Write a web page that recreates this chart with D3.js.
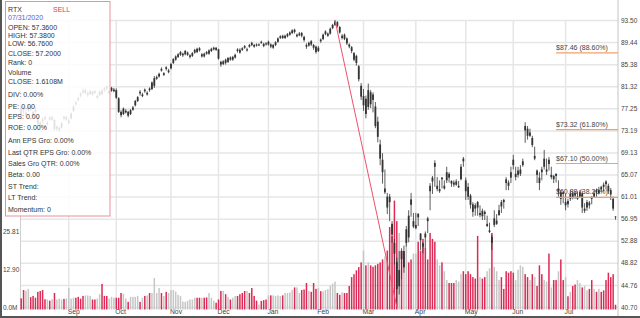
<!DOCTYPE html>
<html>
<head>
<meta charset="utf-8">
<script src="https://cdn.jsdelivr.net/npm/d3@7"></script>
<style>
  body { margin: 0; background: #fff; }
  svg { display: block; font-family: "Liberation Sans", Arial, sans-serif; }
</style>
</head>
<body>
<div id="chart"></div>
<script>
// trading calendar
const holidays = ['2019-09-02', '2019-11-28', '2019-12-25', '2020-01-01', '2020-01-20',
  '2020-02-17', '2020-04-10', '2020-05-25', '2020-07-03'];

// daily OHLC, one line per month (Aug 2019 .. Jul 2020)
const opens = [
  77.4, 77.2, 76.0, 76.9, 77.5, 76.6, 77.0, 75.6, 74.6, 75.2, 75.6, 74.3, 75.5, 75.2, 75.1, 73.5, 73.3, 73.7, 75.7, 75.2,
  74.6, 75.4, 76.8, 78.3, 79.1, 79.9, 80.5, 80.1, 79.7, 79.9, 80.3, 80.4, 79.2, 79.7, 80.5, 80.9, 81.3, 80.0, 80.5, 80.4,
  80.6, 79.1, 76.6, 76.2, 76.5, 76.6, 76.2, 77.0, 77.8, 78.6, 80.3, 79.5, 80.7, 79.8, 80.9, 80.8, 81.4, 82.7, 83.1, 84.5, 83.4, 84.8, 83.9,
  84.6, 85.6, 86.2, 86.7, 87.1, 87.0, 87.2, 87.1, 86.7, 86.9, 87.5, 88.2, 88.3, 86.8, 87.3, 87.6, 87.3, 87.8, 88.1, 88.4,
  88.1, 85.8, 85.4, 86.2, 85.8, 86.6, 86.2, 86.6, 88.1, 88.0, 88.3, 88.7, 87.9, 88.9, 89.3, 88.9, 89.0, 88.8, 89.5, 89.1, 89.2,
  89.0, 89.0, 88.4, 88.9, 89.5, 90.2, 90.6, 90.2, 90.5, 90.8, 91.1, 91.7, 90.5, 90.7, 91.1, 90.4, 88.9, 88.8, 89.6, 88.9, 88.6,
  87.8, 89.9, 90.0, 90.9, 90.6, 91.0, 92.0, 92.6, 93.1, 92.2, 90.2, 90.8, 90.1, 89.0, 88.5, 87.4, 86.9, 85.0, 81.4,
  77.8, 79.0, 77.5, 80.2, 79.8, 77.6, 74.8, 70.6, 67.8, 61.8, 61.0, 61.0, 56.0, 52.5, 49.0, 44.5, 51.0, 48.0, 52.5, 57.5, 60.5, 55.5,
  55.2, 57.8, 54.2, 52.4, 54.2, 57.0, 63.0, 64.5, 67.2, 62.4, 62.0, 64.5, 62.5, 64.0, 65.2, 63.9, 63.6, 63.2, 62.7, 64.2, 68.0,
  64.0, 62.8, 61.2, 59.6, 59.4, 60.0, 57.6, 58.4, 58.2, 55.6, 54.5, 53.6, 55.8, 56.0, 57.6, 60.0, 60.4, 64.2, 63.6, 65.5,
  67.8, 64.6, 65.0, 65.2, 66.8, 74.0, 73.5, 72.2, 71.8, 68.0, 65.8, 64.5, 66.0, 66.5, 65.6, 67.8, 64.6, 64.8, 65.2, 62.0, 61.8, 61.8,
  59.4, 60.2, 60.6, 61.6, 61.6, 60.6, 61.0, 61.6, 58.4, 59.0, 59.9, 61.0, 61.0, 62.2, 61.6, 62.8, 63.2, 63.8, 63.0, 62.2, 60.6, 57.36
];
const highs = [
  77.8, 77.6, 76.9, 77.9, 77.8, 76.8, 77.6, 75.8, 74.9, 75.5, 75.9, 74.9, 75.8, 75.9, 75.3, 74.1, 73.9, 74.7, 75.9, 75.9,
  75.3, 76.5, 77.8, 78.6, 79.4, 80.2, 80.9, 80.9, 80.3, 80.6, 80.5, 80.6, 79.8, 80.5, 80.8, 81.2, 81.5, 80.6, 81.2, 81.0,
  80.9, 79.3, 76.9, 77.4, 77.1, 76.8, 77.1, 77.7, 78.8, 79.5, 80.6, 80.1, 80.9, 80.4, 81.1, 82.2, 83.2, 83.3, 83.8, 84.8, 83.9, 85.0, 84.5,
  85.6, 86.5, 87.0, 87.4, 87.8, 87.5, 88.0, 87.7, 87.2, 87.6, 88.2, 88.4, 88.5, 87.4, 87.5, 87.8, 88.1, 88.4, 88.6, 88.5,
  88.2, 86.0, 86.1, 86.4, 86.7, 86.8, 86.9, 87.3, 88.3, 88.3, 88.5, 88.9, 88.4, 89.1, 89.5, 89.1, 89.2, 89.2, 89.7, 89.3, 89.4,
  89.7, 89.2, 89.1, 89.6, 90.3, 90.7, 90.8, 90.8, 91.1, 91.4, 91.8, 91.9, 91.0, 91.3, 91.3, 90.6, 89.2, 89.5, 89.8, 89.1, 88.8,
  88.7, 90.1, 91.0, 91.6, 91.2, 92.1, 92.8, 93.47, 93.3, 92.4, 90.9, 91.0, 90.3, 89.2, 88.7, 87.6, 87.1, 85.2, 81.9,
  80.8, 79.6, 81.8, 80.6, 80.2, 78.4, 75.7, 71.5, 69.0, 66.0, 61.7, 61.5, 56.5, 53.2, 49.8, 51.0, 51.5, 52.0, 55.6, 58.5, 61.7, 58.0,
  58.0, 58.0, 54.3, 52.6, 54.6, 57.3, 63.5, 64.8, 67.7, 64.6, 64.0, 64.6, 64.0, 66.5, 65.5, 64.0, 64.0, 64.2, 63.9, 67.0, 68.3,
  64.5, 63.5, 61.5, 60.0, 59.8, 60.2, 59.4, 58.8, 58.5, 57.5, 56.2, 54.0, 58.5, 57.8, 59.5, 60.4, 60.6, 64.6, 64.0, 66.5,
  68.7, 66.5, 66.5, 66.8, 68.0, 74.7, 74.0, 73.5, 72.2, 70.2, 66.0, 65.5, 66.5, 69.6, 68.0, 68.3, 66.5, 65.0, 65.3, 64.0, 62.2, 62.0,
  61.5, 60.6, 62.2, 62.0, 62.0, 62.0, 62.2, 62.0, 59.8, 60.4, 60.2, 61.0, 62.2, 62.5, 62.8, 63.0, 63.6, 64.0, 63.4, 62.6, 61.0, 57.38
];
const lows = [
  75.9, 76.3, 75.6, 76.6, 76.7, 75.5, 76.2, 74.2, 73.7, 74.5, 75.0, 74.1, 75.0, 75.0, 73.2, 73.1, 72.9, 73.5, 75.0, 75.0,
  74.3, 75.2, 76.6, 77.7, 78.5, 79.3, 79.9, 79.9, 79.4, 79.7, 79.6, 79.9, 79.0, 79.5, 79.6, 80.3, 80.6, 79.8, 80.3, 80.2,
  79.0, 76.4, 75.6, 76.0, 76.3, 75.6, 76.0, 76.8, 77.6, 78.4, 79.6, 79.3, 80.1, 79.6, 80.3, 80.6, 81.0, 82.5, 82.9, 84.0, 83.2, 84.2, 83.7,
  84.4, 85.4, 86.0, 86.5, 86.9, 86.7, 87.0, 86.9, 86.4, 86.7, 87.3, 87.4, 87.7, 86.6, 86.6, 87.1, 87.1, 87.6, 87.9, 87.8,
  86.2, 84.9, 85.2, 85.3, 85.6, 86.0, 86.0, 86.4, 87.5, 87.3, 87.8, 88.2, 87.7, 88.4, 88.7, 88.4, 88.6, 88.7, 89.1, 88.5, 88.8,
  88.8, 88.3, 88.2, 88.7, 89.3, 90.0, 90.0, 90.0, 90.3, 90.6, 90.9, 91.0, 90.3, 90.5, 90.3, 89.5, 88.2, 88.6, 88.7, 88.0, 87.3,
  87.6, 89.3, 89.8, 90.7, 90.4, 90.8, 91.8, 92.4, 92.1, 91.0, 89.9, 89.8, 88.9, 88.3, 87.4, 85.9, 85.1, 82.2, 78.8,
  76.8, 75.4, 77.0, 77.3, 76.5, 73.6, 71.0, 66.8, 63.4, 61.5, 57.8, 56.5, 52.5, 48.5, 40.73, 43.0, 45.8, 47.0, 51.8, 52.6, 57.3, 55.2,
  55.0, 55.6, 51.2, 50.6, 51.6, 54.3, 58.5, 61.5, 62.8, 62.0, 61.7, 62.5, 62.3, 63.5, 63.6, 62.8, 62.8, 63.0, 62.6, 64.0, 66.5,
  60.4, 60.4, 58.8, 57.3, 57.5, 57.5, 57.2, 56.7, 56.7, 55.4, 54.3, 51.2, 55.4, 55.8, 57.5, 58.0, 58.8, 62.2, 62.2, 63.5,
  66.0, 64.0, 64.5, 64.8, 66.5, 70.9, 71.5, 72.0, 70.1, 67.7, 63.5, 62.2, 64.0, 66.0, 65.0, 65.8, 64.2, 63.5, 63.6, 61.0, 59.5, 59.8,
  58.5, 59.0, 60.2, 60.5, 60.6, 60.4, 60.8, 58.0, 58.0, 58.4, 58.8, 59.6, 60.8, 61.0, 61.4, 61.8, 62.0, 62.4, 61.5, 60.4, 58.4, 56.76
];
const closes = [
  76.2, 76.8, 76.5, 77.6, 77.0, 75.8, 76.6, 74.4, 74.0, 74.9, 75.3, 74.6, 75.2, 75.6, 73.4, 73.9, 73.6, 74.5, 75.4, 75.6,
  75.0, 76.3, 77.6, 78.0, 78.8, 79.6, 80.2, 80.6, 80.0, 80.4, 79.8, 80.1, 79.5, 80.3, 79.9, 80.6, 80.9, 80.4, 81.0, 80.7,
  79.2, 76.6, 76.0, 77.2, 76.8, 75.9, 76.9, 77.4, 78.6, 79.3, 80.0, 79.8, 80.4, 80.1, 80.6, 82.0, 82.8, 83.0, 83.6, 84.2, 83.7, 84.5, 84.2,
  85.4, 86.3, 86.8, 87.2, 87.6, 87.3, 87.8, 87.5, 87.0, 87.4, 88.0, 87.6, 87.9, 87.2, 86.8, 87.3, 87.9, 88.2, 88.4, 88.0,
  86.4, 85.3, 85.9, 85.6, 86.5, 86.2, 86.7, 87.1, 87.8, 87.5, 88.0, 88.4, 88.1, 88.6, 88.9, 88.6, 88.8, 89.0, 89.3, 88.7, 89.0,
  89.5, 88.6, 88.9, 89.4, 90.1, 90.5, 90.2, 90.6, 90.9, 91.2, 91.6, 91.3, 90.8, 91.0, 90.6, 89.8, 88.6, 89.3, 89.0, 88.4, 87.6,
  88.4, 89.6, 90.8, 91.4, 91.0, 91.9, 92.6, 93.2, 92.4, 91.2, 90.6, 90.0, 89.2, 88.6, 87.8, 86.2, 85.6, 82.6, 79.4,
  79.5, 76.2, 80.6, 78.0, 78.8, 74.0, 72.0, 68.0, 65.5, 62.5, 59.0, 60.0, 54.0, 50.5, 44.0, 47.5, 49.5, 51.0, 55.0, 53.5, 59.5, 56.5,
  55.8, 57.2, 53.0, 51.8, 53.5, 56.5, 62.0, 63.8, 66.5, 63.0, 62.4, 64.2, 63.0, 65.5, 64.5, 63.4, 63.2, 63.8, 63.0, 66.5, 67.5,
  62.0, 61.0, 59.5, 58.2, 58.8, 59.0, 58.0, 57.4, 57.8, 56.0, 54.8, 52.5, 57.0, 56.6, 58.5, 59.2, 60.0, 63.5, 63.0, 64.5,
  66.8, 65.2, 65.8, 66.0, 67.5, 73.2, 72.2, 72.8, 70.5, 68.5, 65.0, 63.5, 65.5, 68.0, 66.0, 67.0, 65.0, 64.2, 64.8, 62.5, 60.6, 61.5,
  60.0, 59.6, 61.5, 60.8, 61.2, 61.0, 61.8, 59.0, 58.8, 60.0, 59.4, 60.6, 61.6, 61.8, 62.2, 62.4, 62.8, 63.3, 62.0, 61.4, 58.8, 57.20
];
// volume, millions
const volumes = [
  3.8, 6.6, 6.4, 7.0, 4.2, 4.6, 4.0, 6.0, 6.3, 6.6, 3.5, 3.4, 3.0, 3.5, 5.6, 3.4, 3.7, 3.4, 3.6, 3.8,
  7.3, 3.7, 4.0, 4.0, 4.3, 3.7, 4.6, 4.8, 4.8, 4.6, 3.4, 3.4, 3.7, 5.2, 8.7, 4.6, 4.6, 3.7, 4.3, 4.0,
  4.0, 4.0, 5.6, 5.3, 3.7, 2.6, 4.3, 4.3, 4.3, 4.6, 2.6, 4.0, 4.6, 4.8, 5.6, 5.6, 10.7, 5.6, 7.3, 5.6, 4.6, 6.0, 5.6,
  6.6, 6.6, 6.1, 5.0, 4.6, 2.7, 2.6, 3.0, 3.4, 3.4, 4.0, 4.0, 4.0, 4.0, 4.0, 4.1, 5.6, 4.0, 3.0, 2.3,
  3.4, 6.3, 6.3, 5.2, 4.3, 3.4, 4.0, 4.6, 4.6, 5.2, 5.6, 6.3, 6.3, 5.6, 7.3, 4.6, 3.0, 1.7, 2.9, 3.2, 3.4,
  4.8, 4.8, 4.8, 4.6, 4.8, 4.6, 4.8, 5.6, 5.6, 5.8, 6.6, 7.5, 7.5, 5.6, 6.6, 6.8, 9.0, 6.3, 6.0, 9.0, 7.0,
  7.3, 6.2, 6.2, 6.6, 6.9, 8.1, 8.8, 9.5, 5.6, 5.0, 5.8, 5.6, 5.6, 8.0, 11.0, 12.0, 13.3, 14.4, 16.0,
  20, 15, 16, 15, 14.5, 15, 15.5, 16, 17, 18, 20, 28, 25, 37, 30, 26, 20, 19, 23, 16, 17, 19,
  19, 23, 20, 24, 21, 17, 26, 24, 23, 17, 15, 16, 13, 10, 9, 9, 9, 10, 9.5, 12, 13,
  12, 13, 12, 11, 10.5, 25, 11, 10.5, 11, 13, 14, 26, 14.5, 13, 10, 11, 7, 13, 12.5, 13,
  12.5, 10, 13.5, 15, 14.5, 12, 11, 10, 12, 11, 8, 15, 12, 10, 9.5, 19, 7.5, 10, 10, 13, 17, 10,
  11, 4.5, 6, 8, 8.5, 10, 9, 7.5, 8, 6.5, 7, 10, 7, 6, 7, 6, 6.5, 10, 12.5, 11, 12, 1.6108
];

const priceTicks = [40.70, 44.76, 48.82, 52.88, 56.95, 61.01, 65.07, 69.13, 73.19, 77.25, 81.32, 85.38, 89.44, 93.50];
const volTicks = [0, 12.90, 25.81];
const volTickLabels = ['0.0M', '12.90', '25.81'];
const fibLevels = [0.886, 0.618, 0.5, 0.382];
const fibStart = '2020-06-25';
const symbol = 'RTX';
const signal = 'SELL';
const infoFields = ['Rank: 0', 'Volume'];
const fundamentals = ['DIV: 0.00%', 'PE: 0.00', 'EPS: 0.00', 'ROE: 0.00%', 'Ann EPS Gro: 0.00%',
  'Last QTR EPS Gro: 0.00%', 'Sales Gro QTR: 0.00%', 'Beta: 0.00', 'ST Trend:', 'LT Trend:', 'Momentum: 0'];

const chartW = 640;
const chartH = 318;
const fmt = d3.timeFormat('%Y-%m-%d');
const dates = d3.timeDay.range(new Date(2019, 7, 5), new Date(2020, 7, 1))
  .filter((d) => d.getDay() % 6 !== 0 && !holidays.includes(fmt(d)));

const rows = dates.map((d, i) => ({
  date: d, o: opens[i], h: highs[i], l: lows[i], c: closes[i], v: volumes[i],
}));

const plotL = 20;
const plotR = 618;
const plotT = 20;
const plotB = 307;

const x = d3.scaleBand().domain(dates).range([plotL, 616.7]);
const y = d3.scaleLinear().domain([40.70, 93.50]).range([plotB, plotT]);
const vy = d3.scaleLinear().domain([0, 25.81]).range([309.5, 233.5]);
const cx = (d) => x(d) + x.bandwidth() / 2;
const fontFamily = '"Liberation Sans", Arial, sans-serif';

const svg = d3.select('#chart')
  .append('svg')
  .attr('width', chartW)
  .attr('height', chartH);

svg.append('rect').attr('width', chartW).attr('height', chartH).attr('fill', '#fff');

// horizontal grid + right price labels
const yAxis = svg.append('g')
  .attr('transform', `translate(${plotR},0)`)
  .call(d3.axisRight(y).tickValues(priceTicks).tickSize(-(plotR - plotL)).tickPadding(3)
    .tickFormat(d3.format('.2f')));
yAxis.select('.domain').remove();
yAxis.selectAll('line').attr('stroke', '#e6e6e6').attr('stroke-width', 1.5);
yAxis.selectAll('text').attr('fill', '#444').attr('font-size', 6.5).attr('font-family', fontFamily);

// vertical month grid
const monthStarts = dates.filter((d, i) => i > 0 && d.getMonth() !== dates[i - 1].getMonth());
const xAxis = svg.append('g')
  .attr('transform', 'translate(0,306)')
  .call(d3.axisBottom(x).tickValues(monthStarts).tickSize(-(306 - plotT)).tickPadding(3)
    .tickFormat(d3.timeFormat('%b')));
xAxis.select('.domain').remove();
xAxis.selectAll('line').attr('stroke', '#e6e6e6').attr('stroke-width', 1.5);
xAxis.selectAll('text').attr('fill', '#444').attr('font-size', 6.8)
  .attr('text-anchor', 'start').attr('x', -1).attr('font-family', fontFamily);

// frame lines
svg.append('line').attr('x1', plotR).attr('x2', plotR).attr('y1', 0).attr('y2', 316)
  .attr('stroke', '#c4c4c4');
svg.append('line').attr('x1', plotL + 0.5).attr('x2', plotL + 0.5).attr('y1', plotT).attr('y2', 310)
  .attr('stroke', '#d0d0d0');

// volume bars
svg.append('g')
  .selectAll('rect')
  .data(rows)
  .join('rect')
  .attr('x', (d) => cx(d.date) - 0.75)
  .attr('width', 1.5)
  .attr('y', (d) => vy(d.v))
  .attr('height', (d) => vy(0) - vy(d.v))
  .attr('fill', (d) => (d.c < d.o ? '#dc2a55' : '#c6c6c6'));

// volume labels
const vAxis = svg.append('g')
  .attr('transform', 'translate(3,-2)')
  .call(d3.axisRight(vy).tickValues(volTicks).tickSize(0).tickPadding(0)
    .tickFormat((d, i) => volTickLabels[i]));
vAxis.select('.domain').remove();
vAxis.selectAll('text').attr('fill', '#444').attr('font-size', 6.5).attr('font-family', fontFamily);

// fibonacci retracement
const hiIdx = d3.maxIndex(rows, (d) => d.h);
const loIdx = d3.minIndex(rows, (d) => d.l);
const hi = rows[hiIdx].h;
const lo = rows[loIdx].l;
const fibs = fibLevels.map((f) => ({ f, v: lo + (hi - lo) * f }));
const fx = cx(dates.find((d) => fmt(d) === fibStart));

svg.append('g')
  .selectAll('text')
  .data(fibs)
  .join('text')
  .attr('x', fx)
  .attr('y', (d) => y(d.v) - 3)
  .attr('font-size', 7)
  .attr('fill', '#444')
  .text((d) => `$${d.v.toFixed(2)} (${(d.f * 100).toFixed(2)}%)`);

// candles
const candles = svg.append('g')
  .selectAll('g')
  .data(rows)
  .join('g');
candles.append('line')
  .attr('x1', (d) => cx(d.date))
  .attr('x2', (d) => cx(d.date))
  .attr('y1', (d) => y(d.h))
  .attr('y2', (d) => y(d.l))
  .attr('stroke', '#333')
  .attr('stroke-width', 0.8);
candles.append('rect')
  .attr('x', (d) => cx(d.date) - 0.9)
  .attr('width', 1.8)
  .attr('y', (d) => y(Math.max(d.o, d.c)))
  .attr('height', (d) => Math.max(0.8, Math.abs(y(d.o) - y(d.c))))
  .attr('fill', '#333');

svg.append('g')
  .selectAll('line')
  .data(fibs)
  .join('line')
  .attr('x1', fx)
  .attr('x2', plotR)
  .attr('y1', (d) => y(d.v))
  .attr('y2', (d) => y(d.v))
  .attr('stroke', '#f2a06a')
  .attr('stroke-width', 1.2);

svg.append('line')
  .attr('x1', cx(rows[hiIdx].date))
  .attr('y1', y(hi))
  .attr('x2', cx(rows[loIdx].date))
  .attr('y2', y(lo))
  .attr('stroke', '#f0506a')
  .attr('stroke-width', 1);

// info box
const last = rows[rows.length - 1];
const info = [
  `OPEN: ${last.o.toFixed(4)}`,
  `HIGH: ${last.h.toFixed(4)}`,
  `LOW: ${last.l.toFixed(4)}`,
  `CLOSE: ${last.c.toFixed(4)}`,
  ...infoFields,
  `CLOSE: ${last.v.toFixed(4)}M`,
  ...fundamentals,
];
const infoY = [29.5, 38, 46.2, 55.8, 65, 75, 84, 96.5, 108.5, 119, 130, 142.5, 154.5, 166, 176.5, 188.5, 200, 211.5];

const box = svg.append('g').attr('font-family', fontFamily);
box.append('rect')
  .attr('x', 5.5)
  .attr('y', 1.5)
  .attr('width', 104.5)
  .attr('height', 214.5)
  .attr('fill', '#fff')
  .attr('fill-opacity', 0.85)
  .attr('stroke', '#e8909e');
box.append('text').attr('x', 8).attr('y', 11.8).attr('font-size', 7).attr('fill', '#333').text(symbol);
box.append('text').attr('x', 53).attr('y', 11.8).attr('font-size', 7).attr('fill', '#e8334a').text(signal);
box.append('text').attr('x', 8).attr('y', 19.8).attr('font-size', 7).attr('fill', '#4666d8')
  .text(d3.timeFormat('%m/%d/%Y')(last.date));
box.selectAll('.info')
  .data(info)
  .join('text')
  .attr('class', 'info')
  .attr('x', 8)
  .attr('y', (d, i) => infoY[i])
  .attr('font-size', 7)
  .attr('fill', '#333')
  .text((d) => d);

// outer edge
svg.append('rect').attr('x', 0).attr('y', 0).attr('width', 2).attr('height', chartH).attr('fill', '#555');
svg.append('rect').attr('x', 0).attr('y', 316).attr('width', chartW).attr('height', 2).attr('fill', '#555');
</script>
</body>
</html>
